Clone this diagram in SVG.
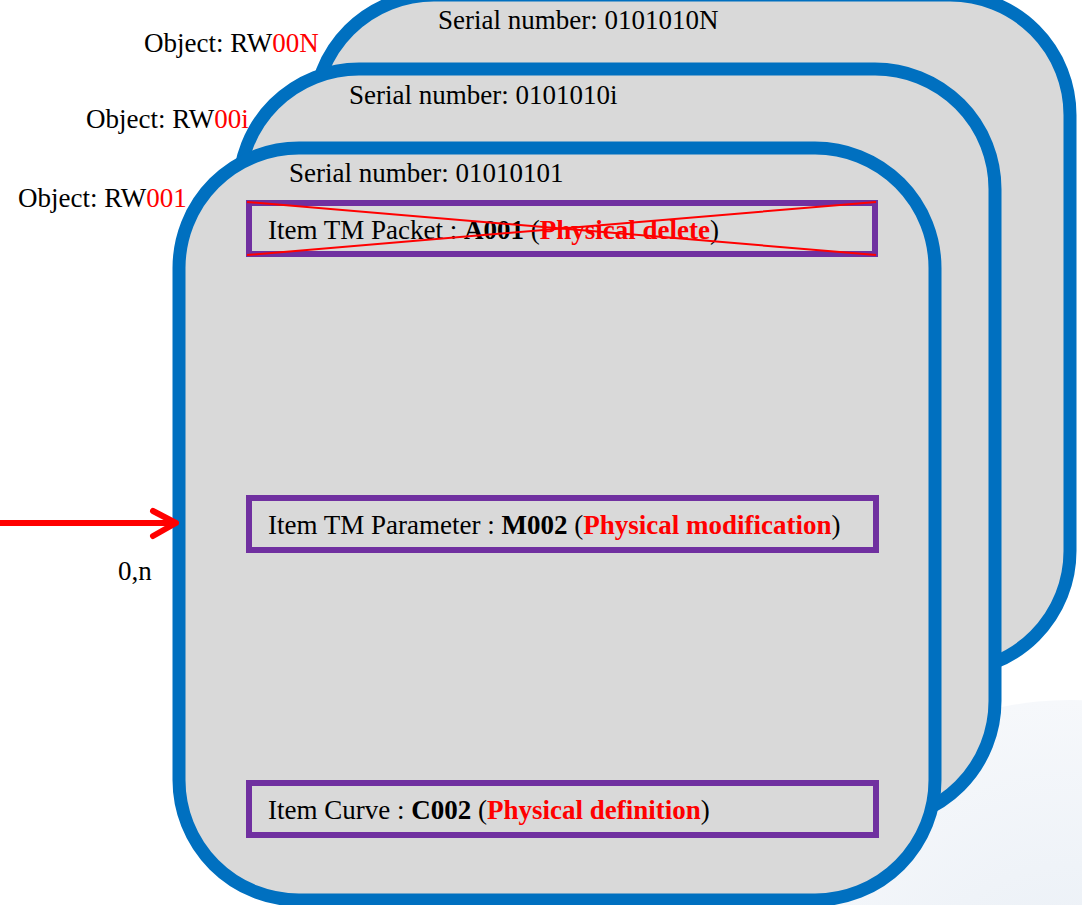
<svg xmlns="http://www.w3.org/2000/svg" width="1082" height="905" viewBox="0 0 1082 905">
<style>
text{font-family:"Liberation Serif","Times New Roman",serif;font-size:27px;fill:#000}
.card{fill:#D9D9D9;stroke:#0070C0;stroke-width:13}
.item{fill:none;stroke:#7030A0;stroke-width:6}
.r{fill:#FF0000}
.b{font-weight:bold}
</style>
<defs>
<radialGradient id="globe" cx="0.5" cy="0.5" r="0.5">
<stop offset="0" stop-color="#E8EEF5"/>
<stop offset="1" stop-color="#F6F8FB"/>
</radialGradient>
</defs>
<rect width="1082" height="905" fill="#fff"/>
<circle cx="1070" cy="1030" r="330" fill="url(#globe)"/>
<g id="object-RW00N">
<rect class="card" x="314" y="-5" width="756" height="676" rx="120"/>
<text x="438" y="29">Serial number: 0101010N</text>
<text x="144" y="52">Object: RW<tspan class="r">00N</tspan></text>
</g>
<g id="object-RW00i">
<rect class="card" x="239" y="69" width="756" height="752" rx="120"/>
<text x="349" y="104">Serial number: 0101010i</text>
<text x="86" y="128">Object: RW<tspan class="r">00i</tspan></text>
</g>
<g id="object-RW001">
<rect class="card" x="179" y="148" width="756" height="752" rx="120"/>
<text x="289" y="182">Serial number: 01010101</text>
<text x="18" y="207">Object: RW<tspan class="r">001</tspan></text>
</g>
<g id="item-packet">
<rect class="item" x="249" y="203" width="626" height="51"/>
<text x="268" y="239">Item TM Packet : <tspan class="b">A001</tspan> (<tspan class="b r">Physical delete</tspan>)</text>
<path d="M247 202 L876 255 M247 255 L876 202" stroke="#FF0000" stroke-width="2" fill="none"/>
</g>
<g id="item-parameter">
<rect class="item" x="249" y="498" width="627" height="52"/>
<text x="268" y="534">Item TM Parameter : <tspan class="b">M002</tspan> (<tspan class="b r">Physical modification</tspan>)</text>
</g>
<g id="item-curve">
<rect class="item" x="249" y="783" width="627" height="52"/>
<text x="268" y="819">Item Curve : <tspan class="b">C002</tspan> (<tspan class="b r">Physical definition</tspan>)</text>
</g>
<g id="connectors">
<path d="M0 523 L175 523" stroke="#FF0000" stroke-width="6" fill="none"/>
<path d="M153 511 L176 523 L153 536" stroke="#FF0000" stroke-width="6" fill="none" stroke-linecap="round" stroke-linejoin="round"/>
<text x="118" y="580">0,n</text>
</g>
</svg>
